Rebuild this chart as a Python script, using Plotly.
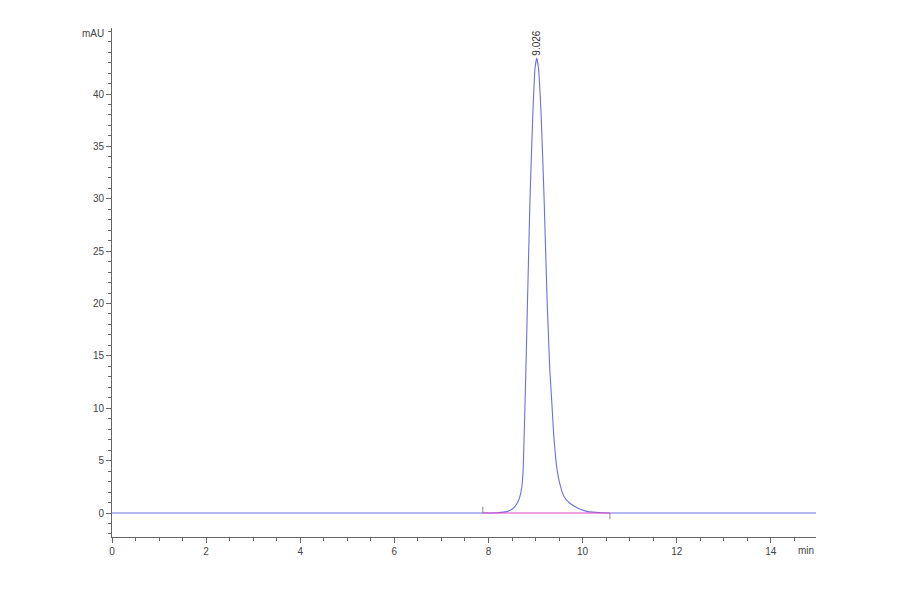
import plotly.graph_objects as go

# chromatogram points (min, mAU)
time_min = [0.0, 7.8, 8.2, 8.384, 8.525, 8.61, 8.667, 8.709, 8.737, 8.758, 8.777,
            8.795, 8.83, 8.882, 8.942, 8.99, 9.026, 9.062, 9.119, 9.183, 9.246,
            9.304, 9.347, 9.389, 9.459, 9.532, 9.608, 9.729, 9.906, 10.112,
            10.4, 10.8, 14.96]
signal_mau = [0.0, 0.0, 0.03, 0.13, 0.45, 0.93, 1.56, 2.51, 4.1, 7.28, 10.47,
              13.65, 20.3, 29.9, 38.0, 42.5, 43.4, 42.5, 38.0, 29.9, 20.3,
              13.65, 10.47, 7.28, 4.1, 2.51, 1.56, 0.93, 0.45, 0.13,
              0.03, 0.0, 0.0]

# integration baseline
base_t = [7.88, 10.58]
base_v = [0.0, 0.0]

peak_rt = 9.026
peak_h = 43.4

x_ticks = [0, 2, 4, 6, 8, 10, 12, 14]
y_ticks = [0, 5, 10, 15, 20, 25, 30, 35, 40]

axis_col = "#666666"
font = dict(family="Liberation Sans, Arial", size=10, color="#444444")

fig = go.Figure()

fig.add_trace(go.Scatter(x=time_min, y=signal_mau, mode="lines",
                         line=dict(color="#6e6ee2", width=1.1, shape="spline", smoothing=0.4),
                         hoverinfo="skip"))
fig.add_trace(go.Scatter(x=base_t, y=base_v, mode="lines",
                         line=dict(color="#e040c8", width=1), hoverinfo="skip"))

# start / end marks of the integration
fig.add_shape(type="line", x0=base_t[0], x1=base_t[0], y0=0, y1=0.6,
              line=dict(color="#888888", width=1))
fig.add_shape(type="line", x0=base_t[1], x1=base_t[1], y0=0, y1=-0.6,
              line=dict(color="#888888", width=1))

# retention time label
fig.add_annotation(x=peak_rt, y=peak_h, text="9.026", textangle=-90,
                   showarrow=False, yanchor="bottom", xanchor="center",
                   yshift=1, font=dict(family="Liberation Sans, Arial", size=10, color="#333333"))

fig.add_annotation(xref="paper", yref="y", x=0, y=45.8, text="mAU", showarrow=False,
                   xanchor="right", xshift=-6, font=font)
fig.add_annotation(xref="x", yref="paper", x=14.96, y=0, text="min", showarrow=False,
                   xanchor="right", yanchor="top", yshift=-6, font=font)

# page body adds an 8px offset, so margins are trimmed by that amount
fig.update_layout(
    width=900, height=594,
    margin=dict(l=104, r=92, t=20, b=65),
    plot_bgcolor="white", paper_bgcolor="white",
    showlegend=False,
    font=font,
    xaxis=dict(range=[0, 14.96], tickvals=x_ticks, showgrid=False, zeroline=False,
               showline=True, linecolor=axis_col, linewidth=1,
               ticks="outside", ticklen=5, tickcolor=axis_col,
               minor=dict(dtick=0.5, ticks="outside", ticklen=3, tickcolor=axis_col)),
    yaxis=dict(range=[-2.29, 46.3], tickvals=y_ticks, showgrid=False, zeroline=False,
               showline=True, linecolor=axis_col, linewidth=1,
               ticks="outside", ticklen=5, tickcolor=axis_col,
               minor=dict(dtick=1, ticks="outside", ticklen=3, tickcolor=axis_col)),
)

fig.write_html("out.html")
